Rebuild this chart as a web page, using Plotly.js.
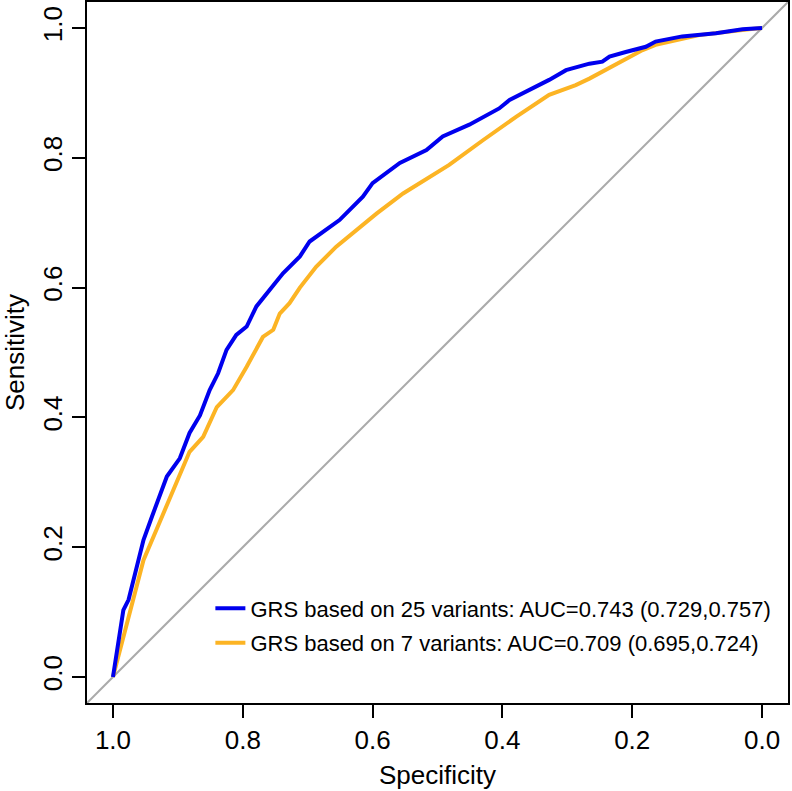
<!DOCTYPE html>
<html>
<head>
<meta charset="utf-8">
<script src="https://cdn.plot.ly/plotly-3.0.1.min.js"></script>
<style>html,body{margin:0;padding:0;background:#fff;}#chart{width:792px;height:791px;}</style>
</head>
<body>
<div id="chart"></div>
<script>
// GRS based on 25 variants
const spec25 = [1.000,0.984,0.976,0.953,0.940,0.928,0.917,0.897,0.882,0.866,0.851,0.838,0.825,0.810,0.794,0.779,0.758,0.738,0.712,0.697,0.651,0.615,0.600,0.558,0.517,0.492,0.451,0.430,0.405,0.389,0.353,0.328,0.302,0.266,0.246,0.235,0.210,0.179,0.164,0.123,0.071,0.030,0.000];
const sens25 = [0.000,0.103,0.119,0.211,0.247,0.278,0.309,0.337,0.376,0.403,0.442,0.468,0.504,0.527,0.540,0.571,0.596,0.622,0.648,0.671,0.704,0.740,0.761,0.792,0.812,0.833,0.851,0.863,0.876,0.889,0.907,0.920,0.935,0.945,0.948,0.956,0.963,0.971,0.979,0.987,0.992,0.998,1.000];
// GRS based on 7 variants
const spec7 = [1.000,0.974,0.969,0.953,0.933,0.902,0.882,0.861,0.840,0.815,0.794,0.769,0.753,0.743,0.728,0.712,0.687,0.656,0.630,0.594,0.553,0.517,0.482,0.430,0.405,0.379,0.328,0.287,0.266,0.251,0.235,0.205,0.184,0.164,0.097,0.020,0.000];
const sens7 = [0.000,0.103,0.119,0.180,0.227,0.298,0.347,0.370,0.416,0.442,0.478,0.524,0.535,0.560,0.576,0.600,0.632,0.663,0.684,0.714,0.745,0.768,0.789,0.827,0.845,0.863,0.897,0.912,0.922,0.930,0.940,0.956,0.966,0.974,0.989,0.998,1.000];
const seriesNames = ["GRS based on 25 variants: AUC=0.743 (0.729,0.757)", "GRS based on 7 variants: AUC=0.709 (0.695,0.724)"];
const tickVals = [0, 0.2, 0.4, 0.6, 0.8, 1.0];
const tickText = ["0.0", "0.2", "0.4", "0.6", "0.8", "1.0"];

const font = "Liberation Sans, Arial, sans-serif";
const traces = [
  {x: spec25, y: sens25, type: "scatter", mode: "lines", name: seriesNames[0], legendgroup: "a", legendrank: 1,
   line: {color: "#0000ee", width: 4}},
  {x: spec7, y: sens7, type: "scatter", mode: "lines", name: seriesNames[1], legendgroup: "b", legendrank: 2,
   line: {color: "#fcb424", width: 4}}
];
// draw orange underneath blue
const data = [traces[1], traces[0]];

const axisCommon = {
  showgrid: false, zeroline: false, showline: true, mirror: true,
  linecolor: "#000", linewidth: 2, ticks: "outside", ticklen: 13, tickwidth: 2,
  tickcolor: "#000", tickvals: tickVals, ticktext: tickText,
  tickfont: {family: font, size: 26, color: "#000"}
};

const layout = {
  width: 792, height: 791,
  margin: {l: 87, r: 4, t: 2, b: 88},
  paper_bgcolor: "#fff", plot_bgcolor: "#fff",
  showlegend: true,
  legend: {x: 0.176, y: 0.165, xanchor: "left", yanchor: "top",
           bgcolor: "rgba(0,0,0,0)", traceorder: "grouped", tracegroupgap: 3,
           font: {family: font, size: 22, color: "#000"}},
  xaxis: Object.assign({}, axisCommon, {
    range: [1.04, -0.04], autorange: false,
    title: {text: "Specificity", font: {family: font, size: 26, color: "#000"}, standoff: 12}
  }),
  yaxis: Object.assign({}, axisCommon, {
    range: [-0.04, 1.04], autorange: false, tickangle: -90,
    title: {text: "Sensitivity", font: {family: font, size: 26, color: "#000"}, standoff: 9}
  }),
  shapes: [{type: "line", xref: "paper", yref: "paper", x0: 0, y0: 0, x1: 1, y1: 1,
            line: {color: "#aaaaaa", width: 2}, layer: "below"}]
};

Plotly.newPlot("chart", data, layout, {displayModeBar: false, staticPlot: true});
</script>
</body>
</html>
